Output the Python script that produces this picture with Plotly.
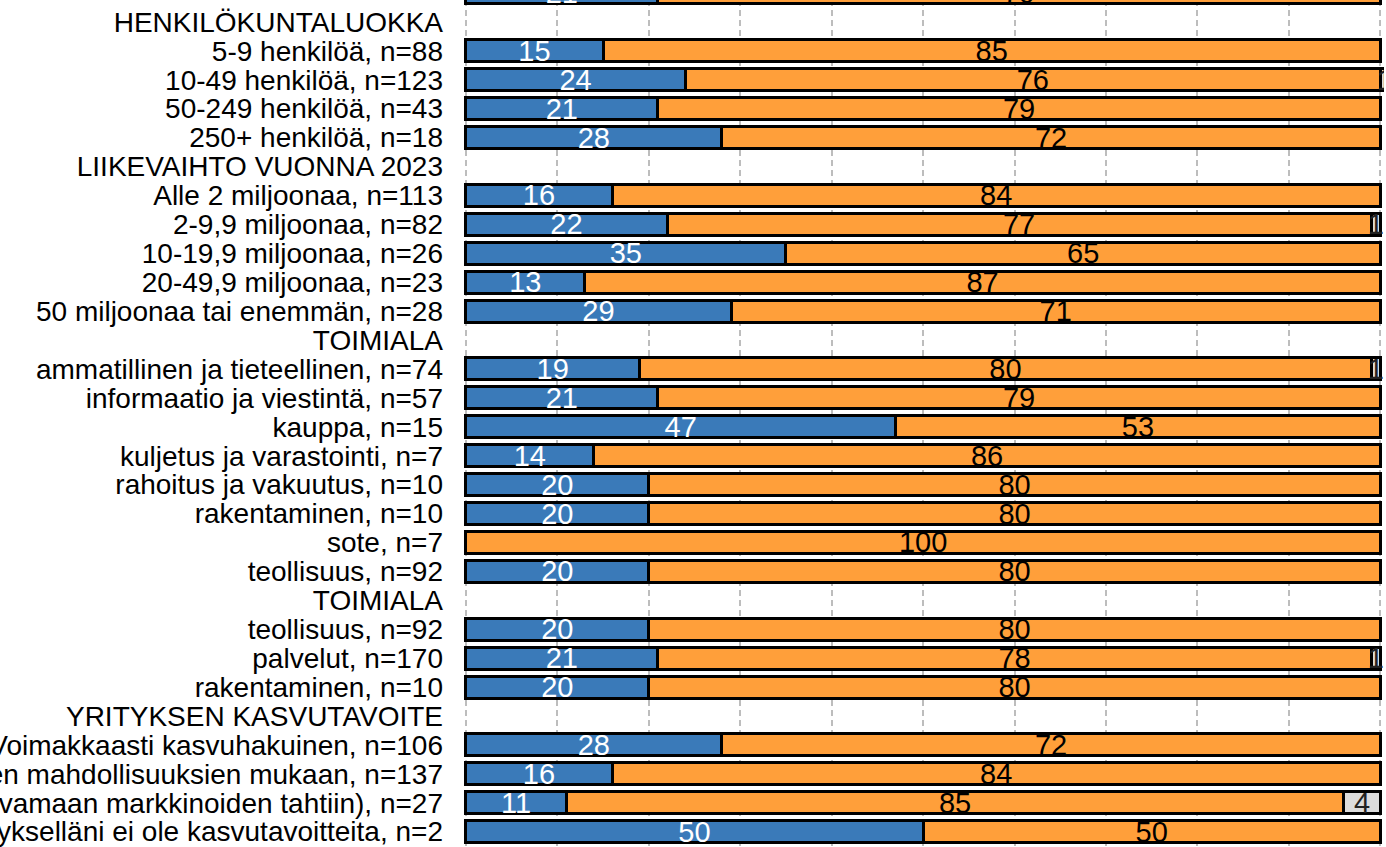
import plotly.graph_objects as go

# Row labels, top to bottom (first row: all respondents)
labels = [
    "Kaikki vastaajat, n=272",
    "HENKILÖKUNTALUOKKA",
    "5-9 henkilöä, n=88",
    "10-49 henkilöä, n=123",
    "50-249 henkilöä, n=43",
    "250+ henkilöä, n=18",
    "LIIKEVAIHTO VUONNA 2023",
    "Alle 2 miljoonaa, n=113",
    "2-9,9 miljoonaa, n=82",
    "10-19,9 miljoonaa, n=26",
    "20-49,9 miljoonaa, n=23",
    "50 miljoonaa tai enemmän, n=28",
    "TOIMIALA",
    "ammatillinen ja tieteellinen, n=74",
    "informaatio ja viestintä, n=57",
    "kauppa, n=15",
    "kuljetus ja varastointi, n=7",
    "rahoitus ja vakuutus, n=10",
    "rakentaminen, n=10",
    "sote, n=7",
    "teollisuus, n=92",
    "TOIMIALA",
    "teollisuus, n=92",
    "palvelut, n=170",
    "rakentaminen, n=10",
    "YRITYKSEN KASVUTAVOITE",
    "Voimakkaasti kasvuhakuinen, n=106",
    "Kasvuhakuinen mahdollisuuksien mukaan, n=137",
    "Maltillinen kasvu (kasvamaan markkinoiden tahtiin), n=27",
    "Yritykselläni ei ole kasvutavoitteita, n=2",
]

# Percentages per row (None = group heading row)
kylla = [21, None, 15, 24, 21, 28, None, 16, 22, 35, 13, 29, None,
         19, 21, 47, 14, 20, 20, 0, 20, None, 20, 21, 20, None, 28, 16, 11, 50]
ei = [79, None, 85, 76, 79, 72, None, 84, 77, 65, 87, 71, None,
      80, 79, 53, 86, 80, 80, 100, 80, None, 80, 78, 80, None, 72, 84, 85, 50]
eos = [0, None, 0, 1, 0, 0, None, 0, 1, 0, 0, 0, None,
       1, 0, 0, 0, 0, 0, 0, 0, None, 0, 1, 0, None, 0, 0, 4, 0]

FONT = "Liberation Sans, Arial, sans-serif"
rows = list(range(len(labels)))


def clean(vals):
    return [v if v else None for v in vals]


def texts(vals):
    return [str(v) if v else "" for v in vals]


fig = go.Figure()
series = [
    (kylla, "#3A7AB9", "white"),
    (ei, "#FF9F3A", "black"),
    (eos, "#DCDCDC", "#222222"),
]
for vals, color, tcolor in series:
    fig.add_trace(go.Bar(
        x=clean(vals),
        y=rows,
        orientation="h",
        marker=dict(color=color, line=dict(color="black", width=3)),
        text=texts(vals),
        textposition="inside",
        insidetextanchor="middle",
        constraintext="none",
        textangle=0,
        insidetextfont=dict(family=FONT, size=29, color=tcolor),
        showlegend=False,
        hoverinfo="skip",
    ))

# Label of the first row, which sits above the visible plot area
fig.add_annotation(
    text=labels[0], xref="paper", x=0, xanchor="right", xshift=-23,
    yref="y", y=rows[0], yanchor="middle", showarrow=False,
    font=dict(family=FONT, size=28, color="black"),
)

fig.update_layout(
    barmode="stack",
    bargap=0.24,
    width=1386,
    height=847,
    margin=dict(l=464, r=2, t=0, b=0),
    paper_bgcolor="white",
    plot_bgcolor="white",
    font=dict(family=FONT, size=28, color="black"),
    xaxis=dict(
        range=[-0.2, 100.4],
        tickvals=list(range(0, 101, 10)),
        showticklabels=False,
        showgrid=True,
        gridcolor="#BDBDBD",
        gridwidth=1.5,
        griddash="6px,4px",
        zeroline=False,
        showline=False,
        automargin=False,
    ),
    yaxis=dict(
        range=[29.53, 0.243],
        tickmode="array",
        tickvals=rows,
        ticktext=labels,
        ticks="",
        ticklabelstandoff=20,
        ticklabeloverflow="allow",
        showgrid=False,
        zeroline=False,
        showline=False,
        automargin=False,
        tickfont=dict(family=FONT, size=28, color="black"),
    ),
)

fig.write_html("out.html")
